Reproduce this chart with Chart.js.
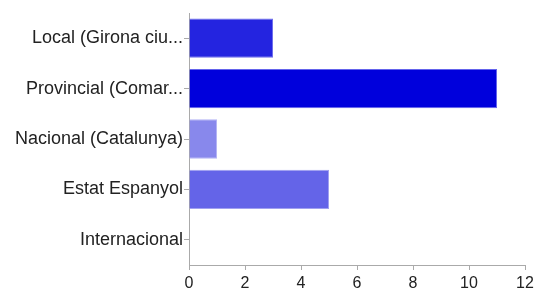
<!DOCTYPE html>
<html>
<head>
<meta charset="utf-8">
<script src="https://cdn.jsdelivr.net/npm/chart.js@4"></script>
<style>
  html, body { margin: 0; padding: 0; background: #fff; }
  #wrap { width: 539px; height: 291px; }
</style>
</head>
<body>
<div id="wrap"><canvas id="myChart" width="539" height="291"></canvas></div>
<script>
let categories = [
    'Local (Girona ciu...',
    'Provincial (Comar...',
    'Nacional (Catalunya)',
    'Estat Espanyol',
    'Internacional',
];
let values = [3, 11, 1, 5, 0];
let barColors = ['rgb(36,36,224)', 'rgb(0,0,220)', 'rgb(136,136,236)', 'rgb(100,100,232)', 'rgb(100,100,232)'];
let borderColors = ['rgb(110,110,236)', 'rgb(100,100,236)', 'rgb(180,180,244)', 'rgb(160,160,240)', 'rgb(160,160,240)'];
let xTicks = { min: 0, max: 12, step: 2 };

let ctx = document.getElementById('myChart');

new Chart(ctx, {
    type: 'bar',
    data: {
        labels: categories,
        datasets: [{
            data: values,
            backgroundColor: barColors,
            borderColor: borderColors,
            borderWidth: 1,
            borderSkipped: 'left',
            barPercentage: 0.78,
            categoryPercentage: 1
        }]
    },
    options: {
        indexAxis: 'y',
        responsive: false,
        animation: false,
        layout: {
            padding: { left: 0, right: 14, top: 13, bottom: 0 }
        },
        plugins: {
            legend: { display: false },
            tooltip: { enabled: false }
        },
        scales: {
            x: {
                min: xTicks.min,
                max: xTicks.max,
                afterFit: function (scale) { scale.height = 26; },
                border: { color: '#aaa' },
                grid: { drawOnChartArea: false, tickLength: 5, color: '#aaa' },
                ticks: {
                    stepSize: xTicks.step,
                    color: '#222',
                    padding: 4,
                    font: { family: 'Liberation Sans', size: 16 }
                }
            },
            y: {
                afterFit: function (scale) { scale.width = 189; },
                border: { color: '#aaa' },
                grid: { drawOnChartArea: false, offset: false, tickLength: 5, color: '#aaa' },
                ticks: {
                    color: '#222',
                    padding: 1,
                    font: { family: 'Liberation Sans', size: 18 }
                }
            }
        }
    }
});
</script>
</body>
</html>
